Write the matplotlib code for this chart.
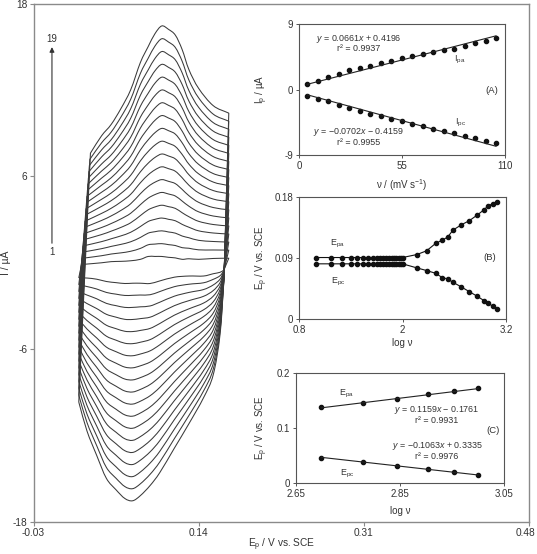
import numpy as np
import matplotlib
matplotlib.use("Agg")
import matplotlib.pyplot as plt
from matplotlib.path import Path
from matplotlib.patches import PathPatch
from matplotlib.transforms import ScaledTranslation

plt.rcParams['font.family'] = ['Liberation Sans', 'DejaVu Sans']
plt.rcParams['mathtext.fontset'] = 'custom'
plt.rcParams['mathtext.rm'] = 'Liberation Sans'
plt.rcParams['mathtext.it'] = 'Liberation Sans:italic'

# ---------------- main CV data (19 scan rates) ----------------
E_fwd = [0.0166, 0.0286, 0.040, 0.050, 0.060, 0.070, 0.080, 0.088, 0.095,
         0.102, 0.109, 0.116, 0.123, 0.130, 0.140, 0.155, 0.171]
# potential where each curve's steep initial rise ends (curve 1 .. 19)
E_turn = [0.0195, 0.0200, 0.0205, 0.0210, 0.0215, 0.0220, 0.0225, 0.0230, 0.0235,
          0.0240, 0.0245, 0.0250, 0.0255, 0.0260, 0.0265, 0.0270, 0.0275, 0.0280, 0.0286]
# one row per potential in E_fwd, 19 currents (curve 1 .. 19)
I_fwd_rows = [
    [-1.06, -1.54, -2.02, -2.50, -2.98, -3.46, -3.94, -4.42, -4.90, -5.38, -5.86, -6.34, -6.82, -7.30, -7.78, -8.26, -8.74, -9.22, -9.70],
    [-0.14, 0.29, 0.72, 1.15, 1.58, 2.01, 2.44, 2.87, 3.30, 3.73, 4.16, 4.59, 5.02, 5.45, 5.88, 6.31, 6.74, 7.17, 7.60],
    [-0.02, 0.47, 0.96, 1.45, 1.94, 2.43, 2.92, 3.41, 3.90, 4.39, 4.88, 5.37, 5.86, 6.35, 6.84, 7.33, 7.82, 8.31, 8.80],
    [0.06, 0.59, 1.12, 1.65, 2.18, 2.71, 3.24, 3.77, 4.30, 4.83, 5.36, 5.89, 6.42, 6.95, 7.48, 8.01, 8.54, 9.07, 9.60],
    [0.08, 0.67, 1.26, 1.85, 2.44, 3.03, 3.62, 4.21, 4.80, 5.39, 5.98, 6.57, 7.16, 7.75, 8.34, 8.93, 9.52, 10.11, 10.70],
    [0.12, 0.78, 1.44, 2.10, 2.76, 3.42, 4.08, 4.74, 5.40, 6.06, 6.72, 7.38, 8.04, 8.70, 9.36, 10.02, 10.68, 11.34, 12.00],
    [0.22, 0.98, 1.74, 2.50, 3.26, 4.02, 4.78, 5.54, 6.30, 7.06, 7.82, 8.58, 9.34, 10.10, 10.86, 11.62, 12.38, 13.14, 13.90],
    [0.42, 1.23, 2.04, 2.85, 3.66, 4.47, 5.28, 6.09, 6.90, 7.71, 8.52, 9.33, 10.14, 10.95, 11.76, 12.57, 13.38, 14.19, 15.00],
    [0.42, 1.28, 2.14, 3.00, 3.86, 4.72, 5.58, 6.44, 7.30, 8.16, 9.02, 9.88, 10.74, 11.60, 12.46, 13.32, 14.18, 15.04, 15.90],
    [0.42, 1.31, 2.20, 3.09, 3.98, 4.87, 5.76, 6.65, 7.54, 8.43, 9.32, 10.21, 11.10, 11.99, 12.88, 13.77, 14.66, 15.55, 16.44],
    [0.36, 1.24, 2.12, 3.00, 3.88, 4.76, 5.64, 6.52, 7.40, 8.28, 9.16, 10.04, 10.92, 11.80, 12.68, 13.56, 14.44, 15.32, 16.20],
    [0.32, 1.18, 2.04, 2.90, 3.76, 4.62, 5.48, 6.34, 7.20, 8.06, 8.92, 9.78, 10.64, 11.50, 12.36, 13.22, 14.08, 14.94, 15.80],
    [0.22, 1.03, 1.84, 2.65, 3.46, 4.27, 5.08, 5.89, 6.70, 7.51, 8.32, 9.13, 9.94, 10.75, 11.56, 12.37, 13.18, 13.99, 14.80],
    [0.26, 0.99, 1.72, 2.45, 3.18, 3.91, 4.64, 5.37, 6.10, 6.83, 7.56, 8.29, 9.02, 9.75, 10.48, 11.21, 11.94, 12.67, 13.40],
    [0.22, 0.88, 1.54, 2.20, 2.86, 3.52, 4.18, 4.84, 5.50, 6.16, 6.82, 7.48, 8.14, 8.80, 9.46, 10.12, 10.78, 11.44, 12.10],
    [0.28, 0.87, 1.46, 2.05, 2.64, 3.23, 3.82, 4.41, 5.00, 5.59, 6.18, 6.77, 7.36, 7.95, 8.54, 9.13, 9.72, 10.31, 10.90],
    [0.30, 0.86, 1.42, 1.98, 2.54, 3.10, 3.66, 4.22, 4.78, 5.34, 5.90, 6.46, 7.02, 7.58, 8.14, 8.70, 9.26, 9.82, 10.38],
]
E_rev = [0.166, 0.162, 0.155, 0.145, 0.130, 0.115, 0.100, 0.090, 0.080,
         0.072, 0.064, 0.055, 0.045, 0.035, 0.025]
I_rev_rows = [
    [-0.52, -0.56, -0.60, -0.64, -0.68, -0.72, -0.76, -0.80, -0.84, -0.88, -0.92, -0.96, -1.00, -1.04, -1.08, -1.12, -1.16, -1.20, -1.24],
    [-0.68, -0.92, -1.16, -1.40, -1.64, -1.88, -2.12, -2.36, -2.60, -2.84, -3.08, -3.32, -3.56, -3.80, -4.04, -4.28, -4.52, -4.76, -5.00],
    [-0.78, -1.17, -1.56, -1.95, -2.34, -2.73, -3.12, -3.51, -3.90, -4.29, -4.68, -5.07, -5.46, -5.85, -6.24, -6.63, -7.02, -7.41, -7.80],
    [-0.94, -1.41, -1.88, -2.35, -2.82, -3.29, -3.76, -4.23, -4.70, -5.17, -5.64, -6.11, -6.58, -7.05, -7.52, -7.99, -8.46, -8.93, -9.40],
    [-0.94, -1.51, -2.08, -2.65, -3.22, -3.79, -4.36, -4.93, -5.50, -6.07, -6.64, -7.21, -7.78, -8.35, -8.92, -9.49, -10.06, -10.63, -11.20],
    [-1.02, -1.68, -2.34, -3.00, -3.66, -4.32, -4.98, -5.64, -6.30, -6.96, -7.62, -8.28, -8.94, -9.60, -10.26, -10.92, -11.58, -12.24, -12.90],
    [-1.28, -2.02, -2.76, -3.50, -4.24, -4.98, -5.72, -6.46, -7.20, -7.94, -8.68, -9.42, -10.16, -10.90, -11.64, -12.38, -13.12, -13.86, -14.60],
    [-1.46, -2.24, -3.02, -3.80, -4.58, -5.36, -6.14, -6.92, -7.70, -8.48, -9.26, -10.04, -10.82, -11.60, -12.38, -13.16, -13.94, -14.72, -15.50],
    [-1.44, -2.26, -3.08, -3.90, -4.72, -5.54, -6.36, -7.18, -8.00, -8.82, -9.64, -10.46, -11.28, -12.10, -12.92, -13.74, -14.56, -15.38, -16.20],
    [-1.44, -2.28, -3.12, -3.96, -4.80, -5.64, -6.48, -7.32, -8.16, -9.00, -9.84, -10.68, -11.52, -12.36, -13.20, -14.04, -14.88, -15.72, -16.56],
    [-1.46, -2.29, -3.12, -3.95, -4.78, -5.61, -6.44, -7.27, -8.10, -8.93, -9.76, -10.59, -11.42, -12.25, -13.08, -13.91, -14.74, -15.57, -16.40],
    [-1.40, -2.20, -3.00, -3.80, -4.60, -5.40, -6.20, -7.00, -7.80, -8.60, -9.40, -10.20, -11.00, -11.80, -12.60, -13.40, -14.20, -15.00, -15.80],
    [-1.32, -2.08, -2.84, -3.60, -4.36, -5.12, -5.88, -6.64, -7.40, -8.16, -8.92, -9.68, -10.44, -11.20, -11.96, -12.72, -13.48, -14.24, -15.00],
    [-1.16, -1.84, -2.52, -3.20, -3.88, -4.56, -5.24, -5.92, -6.60, -7.28, -7.96, -8.64, -9.32, -10.00, -10.68, -11.36, -12.04, -12.72, -13.40],
    [-1.08, -1.67, -2.26, -2.85, -3.44, -4.03, -4.62, -5.21, -5.80, -6.39, -6.98, -7.57, -8.16, -8.75, -9.34, -9.93, -10.52, -11.11, -11.70],
]
main_xticks = [-0.03, 0.14, 0.31, 0.48]
main_xticklabels = ["-0.03", "0.14", "0.31", "0.48"]
main_yticks = [-18, -6, 6, 18]
main_yticklabels = ["-18", "-6", "6", "18"]

# ---------------- inset A: Ip vs v ----------------
v_A = [4.4, 10.0, 15.6, 21.2, 26.8, 32.4, 38.0, 43.6, 49.2, 54.8,
       60.4, 66.0, 71.6, 77.2, 82.8, 88.4, 94.0, 99.6, 105.2]
Ipa = [0.76, 1.21, 1.76, 2.17, 2.63, 2.95, 3.27, 3.64, 3.91, 4.28,
       4.60, 4.88, 5.11, 5.43, 5.61, 5.98, 6.34, 6.71, 7.07]
Ipc = [-0.85, -1.26, -1.58, -2.13, -2.54, -2.95, -3.32, -3.69, -4.05, -4.37,
       -4.74, -5.06, -5.38, -5.70, -6.02, -6.34, -6.71, -7.03, -7.39]
fitA_pa = (0.0661, 0.4196)
fitA_pc = (-0.0702, -0.4159)

# ---------------- inset B: Ep vs log v ----------------
logv_B = [1.0, 1.176, 1.301, 1.398, 1.477, 1.544, 1.602, 1.653, 1.699, 1.740,
          1.778, 1.813, 1.845, 1.875, 1.903, 1.929, 1.954, 1.978, 2.0,
          2.167, 2.279, 2.383, 2.461, 2.523, 2.585, 2.682, 2.774, 2.867,
          2.945, 2.991, 3.045, 3.09]
Epa_B = [0.0907] * 19 + [0.0951, 0.1006, 0.1114, 0.1164, 0.1208, 0.1311, 0.1390,
                         0.1450, 0.1534, 0.1612, 0.1667, 0.1700, 0.1730]
Epc_B = [0.0814] * 19 + [0.0754, 0.0715, 0.0675, 0.0611, 0.0592, 0.0542, 0.0473,
                         0.0404, 0.0335, 0.0271, 0.0232, 0.0192, 0.0148]

# ---------------- inset C: Ep vs log v (high rates) ----------------
logv_C = [2.699, 2.778, 2.845, 2.903, 2.954, 3.0]
Epa_C = [0.138, 0.145, 0.153, 0.161, 0.168, 0.172]
Epc_C = [0.0455, 0.039, 0.031, 0.025, 0.0195, 0.0145]
fitC_pa = (0.1159, -0.1761)
fitC_pc = (-0.1063, 0.3335)

W, H = 537, 554
fig = plt.figure(figsize=(W / 100, H / 100), dpi=100)

def frac(x0, y0, x1, y1):
    return [x0 / W, 1 - y1 / H, (x1 - x0) / W, (y1 - y0) / H]

def smooth_verts(P):
    """Catmull-Rom through the read points, given as cubic Bezier control vertices."""
    P = np.asarray(P, float)
    m = np.zeros_like(P)
    m[0] = P[1] - P[0]
    m[-1] = P[-1] - P[-2]
    m[1:-1] = (P[2:] - P[:-2]) / 2.0
    verts = []
    for i in range(len(P) - 1):
        verts += [P[i] + m[i] / 3.0, P[i + 1] - m[i + 1] / 3.0, P[i + 1]]
    return verts

txt = '#333333'
ax = fig.add_axes(frac(33.5, 3.5, 529, 521.5))
If = np.array(I_fwd_rows).T
Ir = np.array(I_rev_rows).T
for k in range(If.shape[0]):
    ef = list(E_fwd)
    ef[1] = E_turn[k]
    fwd = np.column_stack([ef, If[k]])
    rev = np.column_stack([list(E_rev) + [E_fwd[0]], list(Ir[k]) + [If[k][0]]])
    verts = [fwd[0], fwd[1]]
    codes = [Path.MOVETO, Path.LINETO]
    sv = smooth_verts(fwd[1:])
    verts += sv
    codes += [Path.CURVE4] * len(sv)
    verts.append(rev[0])
    codes.append(Path.LINETO)
    sv = smooth_verts(rev)
    verts += sv
    codes += [Path.CURVE4] * len(sv)
    ax.add_patch(PathPatch(Path(verts, codes), fill=False, edgecolor='#3a3a3a',
                           lw=0.75, joinstyle='round'))
ax.set_xlim(-0.03, 0.48)
ax.set_ylim(-18, 18)
ax.set_xticks(main_xticks)
ax.set_xticklabels(main_xticklabels)
ax.set_yticks(main_yticks)
ax.set_yticklabels(main_yticklabels)
for s in ax.spines.values():
    s.set_color('#8a8a8a')
    s.set_linewidth(1.0)
ax.tick_params(direction='out', length=3, width=0.8, color='#8a8a8a',
               labelsize=7.3, labelcolor=txt, pad=1.5)
lbl = ax.get_xticklabels()[-1]
lbl.set_transform(lbl.get_transform() + ScaledTranslation(-3 / 100, 0, fig.dpi_scale_trans))
ax.set_xlabel('E$_{\\rm p}$ / V vs. SCE', fontsize=7.3, color=txt)
ax.xaxis.set_label_coords(0.5, -0.029)
ax.set_ylabel('I / µA', fontsize=7.5, color=txt)
ax.yaxis.set_label_coords(-0.046, 0.5)
ax.annotate('', xy=(-0.011, 14.97), xytext=(-0.011, 1.34),
            arrowprops=dict(arrowstyle='-|>', lw=0.8, color='#333333',
                            mutation_scale=7, shrinkA=0, shrinkB=0))
ax.text(-0.011, 15.55, '19', fontsize=7, color=txt, ha='center', va='center')
ax.text(-0.011, 0.7, '1', fontsize=7, color=txt, ha='center', va='center')

def style_inset(a):
    for s in a.spines.values():
        s.set_color('#555555')
        s.set_linewidth(0.8)
    a.tick_params(direction='out', length=2.5, width=0.7, color='#555555',
                  labelsize=7, labelcolor=txt, pad=1.5)

fs = 6.4
# inset A
axA = fig.add_axes(frac(299, 24, 505, 155))
axA.plot(v_A, Ipa, 'o', color='#111111', ms=3.0)
axA.plot(v_A, Ipc, 'o', color='#111111', ms=3.0)
vv = np.array([v_A[0], v_A[-1]])
axA.plot(vv, fitA_pa[0] * vv + fitA_pa[1], color='#222222', lw=0.8)
axA.plot(vv, fitA_pc[0] * vv + fitA_pc[1], color='#222222', lw=0.8)
axA.set_xlim(0, 110)
axA.set_ylim(-9, 9)
axA.set_xticks([0, 55, 110])
axA.set_xticklabels(['0', '55', '110'])
axA.set_yticks([-9, 0, 9])
axA.set_yticklabels(['-9', '0', '9'])
style_inset(axA)
axA.set_xlabel('ν / (mV s$^{-1}$)', fontsize=7, color=txt)
axA.xaxis.set_label_coords(0.5, -0.168)
axA.set_ylabel('I$_{\\rm p}$ / µA', fontsize=7, color=txt)
axA.yaxis.set_label_coords(-0.141, 0.5)
axA.text(0.29, 0.885, '$y$ = 0.0661$x$ + 0.4196', transform=axA.transAxes, fontsize=fs, color=txt, ha='center', va='center')
axA.text(0.29, 0.815, 'r² = 0.9937', transform=axA.transAxes, fontsize=fs, color=txt, ha='center', va='center')
axA.text(0.29, 0.176, '$y$ = −0.0702$x$ − 0.4159', transform=axA.transAxes, fontsize=fs, color=txt, ha='center', va='center')
axA.text(0.29, 0.094, 'r² = 0.9955', transform=axA.transAxes, fontsize=fs, color=txt, ha='center', va='center')
axA.text(0.782, 0.725, 'I$_{\\rm pa}$', transform=axA.transAxes, fontsize=fs, color=txt, ha='center', va='center')
axA.text(0.782, 0.244, 'I$_{\\rm pc}$', transform=axA.transAxes, fontsize=fs, color=txt, ha='center', va='center')
axA.text(0.935, 0.496, '(A)', transform=axA.transAxes, fontsize=fs + 0.4, color=txt, ha='center', va='center')

# inset B
axB = fig.add_axes(frac(299, 197, 506, 319))
axB.plot(logv_B, Epa_B, '-o', color='#111111', ms=3.0, lw=0.8)
axB.plot(logv_B, Epc_B, '-o', color='#111111', ms=3.0, lw=0.8)
axB.set_xlim(0.8, 3.2)
axB.set_ylim(0, 0.18)
axB.set_xticks([0.8, 2, 3.2])
axB.set_xticklabels(['0.8', '2', '3.2'])
axB.set_yticks([0, 0.09, 0.18])
axB.set_yticklabels(['0', '0.09', '0.18'])
style_inset(axB)
axB.set_xlabel('log ν', fontsize=7, color=txt)
axB.xaxis.set_label_coords(0.5, -0.156)
axB.set_ylabel('E$_{\\rm p}$ / V vs. SCE', fontsize=7, color=txt)
axB.yaxis.set_label_coords(-0.14, 0.5)
axB.text(0.188, 0.615, 'E$_{\\rm pa}$', transform=axB.transAxes, fontsize=fs, color=txt, ha='center', va='center')
axB.text(0.188, 0.303, 'E$_{\\rm pc}$', transform=axB.transAxes, fontsize=fs, color=txt, ha='center', va='center')
axB.text(0.923, 0.508, '(B)', transform=axB.transAxes, fontsize=fs + 0.4, color=txt, ha='center', va='center')

# inset C
axC = fig.add_axes(frac(296, 373, 504, 483))
axC.plot(logv_C, Epa_C, 'o', color='#111111', ms=3.0)
axC.plot(logv_C, Epc_C, 'o', color='#111111', ms=3.0)
lv = np.array([logv_C[0], logv_C[-1]])
axC.plot(lv, fitC_pa[0] * lv + fitC_pa[1], color='#222222', lw=0.8)
axC.plot(lv, fitC_pc[0] * lv + fitC_pc[1], color='#222222', lw=0.8)
axC.set_xlim(2.65, 3.05)
axC.set_ylim(0, 0.2)
axC.set_xticks([2.65, 2.85, 3.05])
axC.set_xticklabels(['2.65', '2.85', '3.05'])
axC.set_yticks([0, 0.1, 0.2])
axC.set_yticklabels(['0', '0.1', '0.2'])
style_inset(axC)
axC.set_xlabel('log ν', fontsize=7, color=txt)
axC.xaxis.set_label_coords(0.5, -0.209)
axC.set_ylabel('E$_{\\rm p}$ / V vs. SCE', fontsize=7, color=txt)
axC.yaxis.set_label_coords(-0.125, 0.5)
axC.text(0.245, 0.809, 'E$_{\\rm pa}$', transform=axC.transAxes, fontsize=fs, color=txt, ha='center', va='center')
axC.text(0.245, 0.082, 'E$_{\\rm pc}$', transform=axC.transAxes, fontsize=fs, color=txt, ha='center', va='center')
axC.text(0.678, 0.664, '$y$ = 0.1159$x$ − 0.1761', transform=axC.transAxes, fontsize=fs, color=txt, ha='center', va='center')
axC.text(0.678, 0.564, 'r² = 0.9931', transform=axC.transAxes, fontsize=fs, color=txt, ha='center', va='center')
axC.text(0.678, 0.336, '$y$ = −0.1063$x$ + 0.3335', transform=axC.transAxes, fontsize=fs, color=txt, ha='center', va='center')
axC.text(0.678, 0.245, 'r² = 0.9976', transform=axC.transAxes, fontsize=fs, color=txt, ha='center', va='center')
axC.text(0.947, 0.473, '(C)', transform=axC.transAxes, fontsize=fs + 0.4, color=txt, ha='center', va='center')

fig.savefig('out.png', dpi=100)
